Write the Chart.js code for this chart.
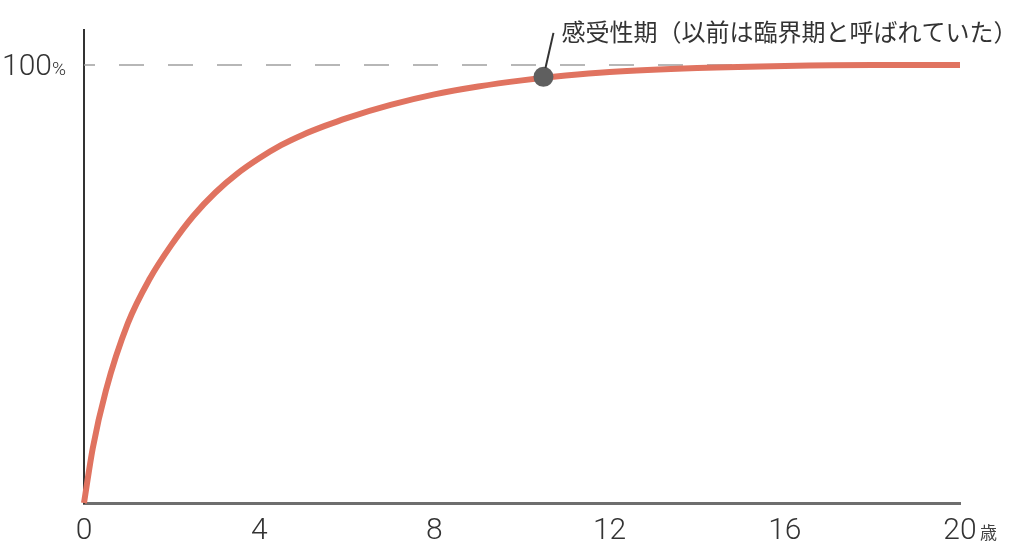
<!DOCTYPE html>
<html lang="ja">
<head>
<meta charset="utf-8">
<title>感受性期</title>
<script src="https://cdn.jsdelivr.net/npm/chart.js@4.4.1/dist/chart.umd.min.js"></script>
<style>
  html, body { margin: 0; padding: 0; background: #fff; }
  #wrap { width: 1022px; height: 548px; }
</style>
</head>
<body>
<div id="wrap"><canvas id="chart" width="1022" height="548"></canvas></div>
<script>
/* ─── DATA ───────────────────────────────────────────────────
   Age in years (x) and development level in % (y),
   read off the reference picture.
─────────────────────────────────────────────────────────────── */

const AGES   = [0, 0.2, 0.5, 1, 1.5, 2, 2.5, 3, 3.5, 4, 4.5, 5, 5.5, 6, 7, 8, 9, 10, 11, 12, 14, 16, 18, 20];
const LEVELS = [0, 12.5, 25.7, 41.0, 51.2, 59.0, 65.6, 70.9, 75.2, 78.7, 81.7, 84.1, 86.1, 87.9, 90.9, 93.3, 95.1, 96.5, 97.6, 98.4, 99.3, 99.8, 100, 100];

const MARK_AGE   = 10.49;
const MARK_LEVEL = 97.3;
const MARK_LABEL = '感受性期（以前は臨界期と呼ばれていた）';

const X_TICKS = [0, 4, 8, 12, 16, 20];
const X_UNIT  = '歳';
const Y_LABEL = '100';
const Y_UNIT  = '%';


/* ─── ANNOTATIONS ────────────────────────────────────────────
   Leader line + label for the marked point, the 100% label
   and the unit after the last x tick.
─────────────────────────────────────────────────────────────── */

const annotations = {
  id: 'annotations',
  afterDatasetsDraw(chart) {
    const c = chart.ctx;
    const x = chart.scales.x;
    const y = chart.scales.y;
    const dot = chart.getDatasetMeta(0).data[0];

    c.save();

    /* leader line from the dot up to the label */
    const dx = 10, dy = -44;
    const len = Math.hypot(dx, dy);
    c.strokeStyle = '#333';
    c.lineWidth = 2;
    c.beginPath();
    c.moveTo(dot.x + dx / len * 9, dot.y + dy / len * 9);
    c.lineTo(dot.x + dx, dot.y + dy);
    c.stroke();

    c.fillStyle = '#333';
    c.font = '24px "Noto Sans CJK JP"';
    c.textAlign = 'left';
    c.textBaseline = 'middle';
    c.fillText(MARK_LABEL, dot.x + 18, dot.y - 45);

    /* 100% label */
    const y100 = y.getPixelForValue(100);
    c.textBaseline = 'alphabetic';
    c.textAlign = 'right';
    c.font = '300 30px Roboto';
    c.fillText(Y_LABEL, 52, y100 + 10);
    c.textAlign = 'left';
    c.font = '300 19px Roboto';
    c.fillText(Y_UNIT, 52, y100 + 10);

    /* unit after the last tick */
    c.fillStyle = '#444';
    c.font = '17px "Noto Sans CJK JP"';
    c.fillText(X_UNIT, x.getPixelForValue(20) + 20, 539);

    c.restore();
  },
};


/* ─── CHART ──────────────────────────────────────────────────*/

const curve = AGES.map((a, i) => ({ x: a, y: LEVELS[i] }));

new Chart(document.getElementById('chart'), {
  type: 'scatter',
  data: {
    datasets: [
      {
        label: 'mark',
        data: [{ x: MARK_AGE, y: MARK_LEVEL }],
        pointRadius: 10,
        pointBackgroundColor: '#5f5f5f',
        pointBorderWidth: 0,
        showLine: false,
        clip: false,
        order: 0,
      },
      {
        label: 'curve',
        data: curve,
        showLine: true,
        borderColor: '#e07360',
        borderWidth: 6,
        pointRadius: 0,
        cubicInterpolationMode: 'monotone',
        clip: false,
        order: 1,
      },
      {
        label: '100%',
        data: [{ x: 0, y: 100 }, { x: 20, y: 100 }],
        showLine: true,
        borderColor: '#a0a0a0',
        borderWidth: 1.5,
        borderDash: [25, 24],
        borderDashOffset: 14,
        pointRadius: 0,
        order: 2,
      },
    ],
  },
  options: {
    responsive: false,
    animation: false,
    events: [],
    devicePixelRatio: 1,
    layout: { padding: { left: 84, right: 62, top: 30, bottom: 0 } },
    plugins: {
      legend: { display: false },
      tooltip: { enabled: false },
    },
    scales: {
      x: {
        type: 'linear',
        min: 0,
        max: 20,
        grid: { display: false, drawTicks: false },
        border: { display: true, color: '#6e6e6e', width: 3 },
        afterBuildTicks: (s) => { s.ticks = X_TICKS.map((v) => ({ value: v })); },
        afterFit: (s) => { s.height = 45; },
        ticks: {
          color: '#333',
          padding: 10,
          font: { family: 'Roboto', size: 30, weight: '300' },
        },
      },
      y: {
        type: 'linear',
        min: 0,
        max: 108,
        grid: { display: false, drawTicks: false },
        border: { display: true, color: '#333', width: 2 },
        ticks: { display: false },
      },
    },
  },
  plugins: [annotations],
});
</script>
</body>
</html>
